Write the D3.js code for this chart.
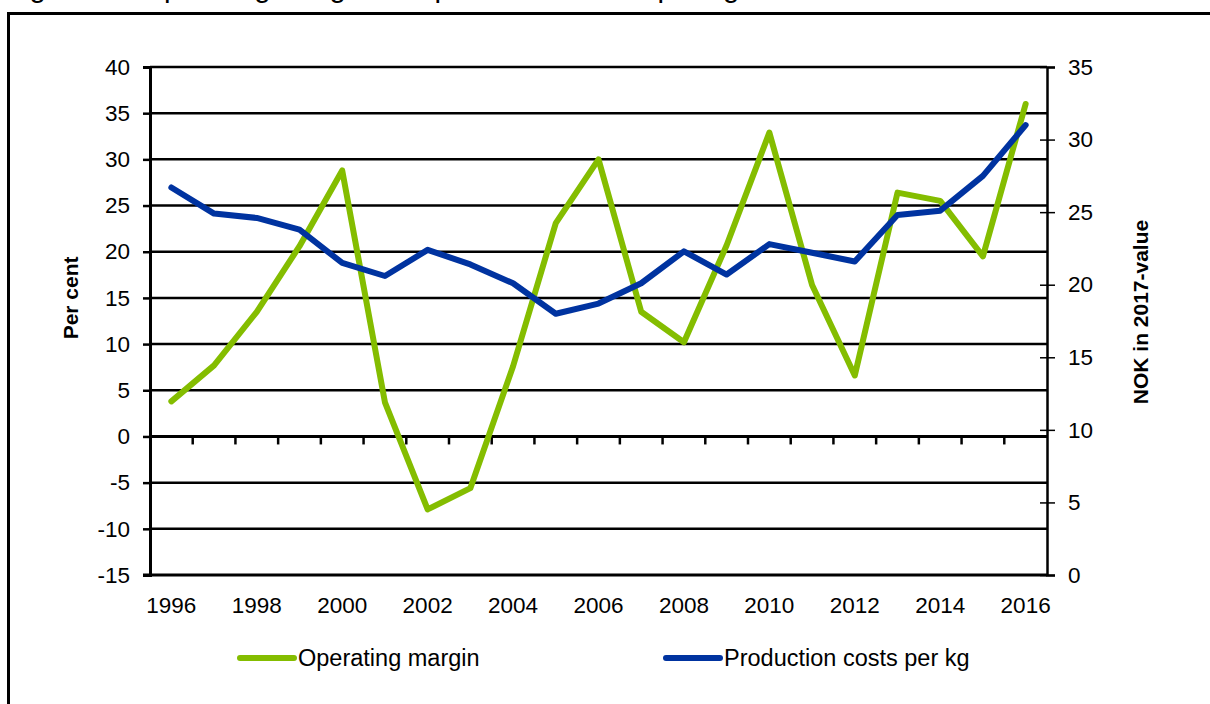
<!DOCTYPE html>
<html>
<head>
<meta charset="utf-8">
<script src="https://cdn.jsdelivr.net/npm/d3@7"></script>
<style>
  html, body { margin: 0; padding: 0; background: #fff; overflow: hidden; }
  svg text { font-family: "Liberation Sans", Arial, sans-serif; fill: #000; }
</style>
</head>
<body>
<div id="chart"></div>
<script>
var years = [1996, 1997, 1998, 1999, 2000, 2001, 2002, 2003, 2004, 2005, 2006,
             2007, 2008, 2009, 2010, 2011, 2012, 2013, 2014, 2015, 2016];
var operatingMargin = [3.8, 7.7, 13.5, 20.6, 28.8, 3.7, -7.9, -5.6, 7.6, 23.1, 30.0,
                       13.5, 10.2, 20.7, 32.9, 16.4, 6.6, 26.4, 25.5, 19.5, 36.0];
var productionCost = [26.7, 24.9, 24.6, 23.8, 21.5, 20.6, 22.4, 21.4, 20.1, 18.0, 18.7,
                      20.1, 22.3, 20.7, 22.8, 22.2, 21.6, 24.8, 25.1, 27.5, 31.0];
var leftTicks = [-15, -10, -5, 0, 5, 10, 15, 20, 25, 30, 35, 40];
var rightTicks = [0, 5, 10, 15, 20, 25, 30, 35];
var yearLabels = [1996, 1998, 2000, 2002, 2004, 2006, 2008, 2010, 2012, 2014, 2016];
var seriesNames = ["Operating margin", "Production costs per kg"];
var seriesColors = ["#84bd00", "#0033a0"];

function drawChart(){
    var W = 1210, H = 704;
    var plotLeft = 150, plotRight = 1047, plotTop = 67, plotBottom = 575;
    var tickFont = 22.5;
    var plain = function(d){ return String(d); };   // hyphen minus, like the original

    var svg = d3.select("#chart").append("svg").attr("width", W).attr("height", H);

    // frame and the title, which sits mostly above the picture
    svg.append("text")
        .attr("x", 5).attr("y", -3)
        .attr("font-size", 29.5)
        .text("Figure 10");
    svg.append("text")
        .attr("x", 141).attr("y", -3)
        .attr("font-size", 29.5)
        .text("Operating margin and production costs per kg");
    svg.append("rect")
        .attr("x", 8.5).attr("y", 13.5)
        .attr("width", W + 20).attr("height", H + 20)
        .attr("fill", "none").attr("stroke", "#000").attr("stroke-width", 3);

    var x = d3.scaleBand().domain(years).range([plotLeft, plotRight]).paddingInner(0).paddingOuter(0);
    var yL = d3.scaleLinear().domain([-15, 40]).range([plotBottom, plotTop]);
    var yR = d3.scaleLinear().domain([0, 35]).range([plotBottom, plotTop]);
    var cx = function(d){ return x(d) + x.bandwidth() / 2; };

    // gridlines
    svg.append("g").selectAll("line")
        .data(leftTicks.filter(function(d){ return d > -15; }))
        .enter().append("line")
        .attr("x1", plotLeft).attr("x2", plotRight)
        .attr("y1", function(d){ return yL(d); })
        .attr("y2", function(d){ return yL(d); })
        .attr("stroke", "#000")
        .attr("stroke-width", function(d){ return d === 0 ? 3 : 2.5; });

    // left axis
    var leftAxis = svg.append("g")
        .attr("transform", "translate(" + plotLeft + ",0)")
        .call(d3.axisLeft(yL).tickValues(leftTicks).tickFormat(plain).tickSize(7).tickPadding(13));
    leftAxis.select(".domain").attr("stroke-width", 3);
    leftAxis.selectAll(".tick line").attr("stroke-width", 2.5);
    leftAxis.selectAll("text").attr("font-size", tickFont).attr("font-family", null);

    // right axis
    var rightAxis = svg.append("g")
        .attr("transform", "translate(" + plotRight + ",0)")
        .call(d3.axisRight(yR).tickValues(rightTicks).tickFormat(plain).tickSize(8).tickPadding(13));
    rightAxis.select(".domain").attr("stroke-width", 2.5);
    rightAxis.selectAll(".tick line").attr("x1", -7).attr("stroke-width", 1.5);
    rightAxis.selectAll("text").attr("font-size", tickFont).attr("font-family", null);

    // bottom axis line and year labels
    svg.append("line")
        .attr("x1", plotLeft - 7).attr("x2", plotRight)
        .attr("y1", plotBottom).attr("y2", plotBottom)
        .attr("stroke", "#000").attr("stroke-width", 3);
    svg.append("g").selectAll("text")
        .data(yearLabels).enter().append("text")
        .attr("x", cx)
        .attr("y", plotBottom + 38)
        .attr("text-anchor", "middle")
        .attr("font-size", tickFont)
        .text(function(d){ return d; });

    // category ticks on the zero line
    svg.append("g").selectAll("line")
        .data(years.slice(1)).enter().append("line")
        .attr("x1", function(d){ return x(d); })
        .attr("x2", function(d){ return x(d); })
        .attr("y1", yL(0)).attr("y2", yL(0) + 8)
        .attr("stroke", "#000").attr("stroke-width", 2.5);

    // axis titles
    svg.append("text")
        .attr("transform", "translate(78," + yL(15) + ") rotate(-90)")
        .attr("text-anchor", "middle")
        .attr("font-size", 21).attr("font-weight", "bold")
        .text("Per cent");
    svg.append("text")
        .attr("transform", "translate(1148,312) rotate(-90)")
        .attr("text-anchor", "middle")
        .attr("font-size", 21).attr("font-weight", "bold")
        .text("NOK in 2017-value");

    // series
    var lineL = d3.line().x(function(d, i){ return cx(years[i]); }).y(function(d){ return yL(d); });
    var lineR = d3.line().x(function(d, i){ return cx(years[i]); }).y(function(d){ return yR(d); });

    svg.append("path")
        .datum(operatingMargin)
        .attr("d", lineL)
        .attr("fill", "none")
        .attr("stroke", seriesColors[0])
        .attr("stroke-width", 6)
        .attr("stroke-linejoin", "round")
        .attr("stroke-linecap", "round");
    svg.append("path")
        .datum(productionCost)
        .attr("d", lineR)
        .attr("fill", "none")
        .attr("stroke", seriesColors[1])
        .attr("stroke-width", 6)
        .attr("stroke-linejoin", "round")
        .attr("stroke-linecap", "round");

    // legend
    var legendX = [238, 664];
    var legend = svg.append("g").selectAll("g")
        .data(seriesNames).enter().append("g")
        .attr("transform", function(d, i){ return "translate(" + legendX[i] + ",658)"; });
    legend.append("line")
        .attr("x1", 2).attr("x2", 56)
        .attr("stroke", function(d, i){ return seriesColors[i]; })
        .attr("stroke-width", 6)
        .attr("stroke-linecap", "round");
    legend.append("text")
        .attr("x", 60).attr("y", 8)
        .attr("font-size", 23.5)
        .text(function(d){ return d; });
}

drawChart();
</script>
</body>
</html>
